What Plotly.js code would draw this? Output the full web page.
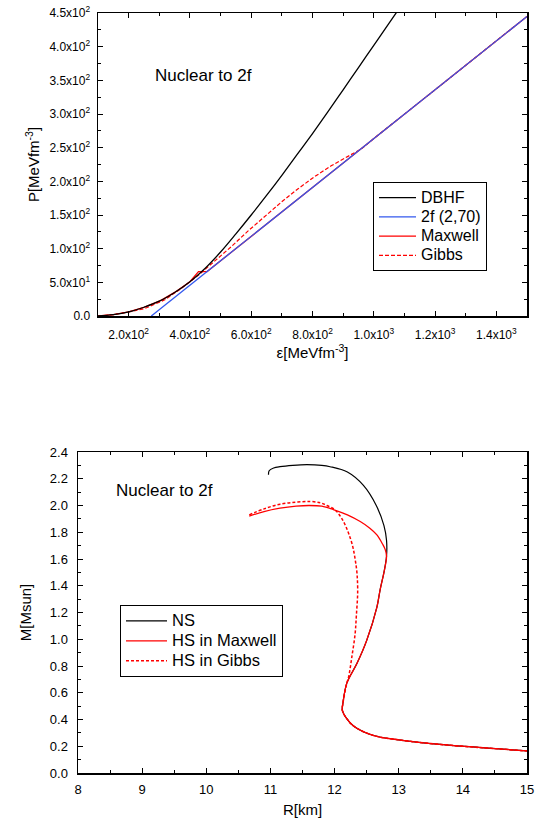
<!DOCTYPE html>
<html><head><meta charset="utf-8">
<script src="https://cdn.plot.ly/plotly-3.0.1.min.js"></script>
<style>html,body{margin:0;padding:0;background:#fff}</style>
</head><body><div id="chart" style="width:547px;height:823px"></div>
<script>
// ---- Top panel: P vs energy density ----
const dbhfE = [100,150,200,250,300,350,400,450,500,550,600,650,700,750,800,850,900,950,1000,1050,1085];
const dbhfP = [0,2,6,13,22,35,51,71,95,122,150,179,209,240,271,303,336,369,402,435,458];
const twofE = [274,400,600,800,1000,1200,1400,1500];
const twofP = [0,45.7,118.3,190.9,263.5,336,408.6,444.9];
const maxwellE = [100,150,200,250,300,350,400,428,456,600,800,1000,1200,1400,1500];
const maxwellP = [0,2,6,13,22,35,51,66,66,118.3,190.9,263.5,336,408.6,444.9];
const gibbsE = [100,150,200,252,318,372,426,481,535,589,644,698,753,807,861,916,962,1000,1200,1400,1500];
const gibbsP = [0,2,6,11,24,41,60,81,103,126,148,169,189,207,223,237,249,263.5,336,408.6,444.9];
const topXTicks = [200,400,600,800,1000,1200,1400];
const topXLabels = ["2.0x10<sup>2</sup>","4.0x10<sup>2</sup>","6.0x10<sup>2</sup>","8.0x10<sup>2</sup>","1.0x10<sup>3</sup>","1.2x10<sup>3</sup>","1.4x10<sup>3</sup>"];
const topYTicks = [0,50,100,150,200,250,300,350,400,450];
const topYLabels = ["0.0","5.0x10<sup>1</sup>","1.0x10<sup>2</sup>","1.5x10<sup>2</sup>","2.0x10<sup>2</sup>","2.5x10<sup>2</sup>","3.0x10<sup>2</sup>","3.5x10<sup>2</sup>","4.0x10<sup>2</sup>","4.5x10<sup>2</sup>"];

// ---- Bottom panel: M vs R ----
const nsR = [10.97,10.98,11.05,11.15,11.35,11.57,11.8,11.93,12.2,12.45,12.65,12.77,12.81,12.81,12.77,12.71,12.66,12.5,12.35,12.19,12.13,12.12,12.17,12.30,12.61,12.97,13.5,14.28,15.0];
const nsM = [2.23,2.26,2.28,2.29,2.30,2.305,2.30,2.29,2.25,2.15,2.0,1.85,1.74,1.62,1.5,1.37,1.24,0.99,0.82,0.67,0.52,0.47,0.42,0.35,0.28,0.25,0.22,0.19,0.165];
const maxR = [10.67,10.9,11.15,11.4,11.6,11.8,11.98,12.2,12.4,12.55,12.66,12.75,12.79,12.81,12.77,12.71,12.66,12.5,12.35,12.19,12.13,12.12,12.17,12.30,12.61,12.97,13.5,14.28,15.0];
const maxM = [1.92,1.955,1.98,1.995,2.0,1.995,1.97,1.93,1.88,1.83,1.78,1.71,1.67,1.62,1.5,1.37,1.24,0.99,0.82,0.67,0.52,0.47,0.42,0.35,0.28,0.25,0.22,0.19,0.165];
const gibR = [10.67,10.9,11.15,11.4,11.62,11.78,11.88,12.0,12.09,12.16,12.22,12.28,12.32,12.35,12.36,12.34,12.32,12.27,12.22,12.19,12.13,12.12,12.17,12.30,12.61,12.97,13.5,14.28,15.0];
const gibM = [1.93,1.975,2.01,2.025,2.03,2.02,2.0,1.97,1.92,1.86,1.79,1.70,1.60,1.49,1.35,1.18,1.04,0.87,0.72,0.67,0.52,0.47,0.42,0.35,0.28,0.25,0.22,0.19,0.165];
const botXTicks = [8,9,10,11,12,13,14,15];
const botYTicks = [0,0.2,0.4,0.6,0.8,1.0,1.2,1.4,1.6,1.8,2.0,2.2,2.4];

const BLUE = "#3358ee", RED = "#ff0000", BLK = "#000000";
const lg = (t, px) => '<span style="font-size:' + px + 'px">' + t + '</span>';
const traces = [
  {x: gibbsE, y: gibbsP, name: lg("Gibbs", 16), mode: "lines", line: {color: RED, width: 1.2, dash: "4px,2px"}, xaxis: "x", yaxis: "y", legend: "legend", legendrank: 4},
  {x: maxwellE, y: maxwellP, name: lg("Maxwell", 16), mode: "lines", line: {color: RED, width: 1.3}, xaxis: "x", yaxis: "y", legend: "legend", legendrank: 3},
  {x: dbhfE, y: dbhfP, name: lg("DBHF", 16), mode: "lines", line: {color: BLK, width: 1.3, shape: "spline"}, xaxis: "x", yaxis: "y", legend: "legend", legendrank: 1},
  {x: twofE, y: twofP, name: lg("2f (2,70)", 16), mode: "lines", line: {color: BLUE, width: 1.3}, xaxis: "x", yaxis: "y", legend: "legend", legendrank: 2},
  {x: nsR, y: nsM, name: lg("NS", 16.5), mode: "lines", line: {color: BLK, width: 1.2, shape: "spline"}, xaxis: "x2", yaxis: "y2", legend: "legend2", legendrank: 1},
  {x: maxR, y: maxM, name: lg("HS in Maxwell", 16.5), mode: "lines", line: {color: RED, width: 1.3, shape: "spline"}, xaxis: "x2", yaxis: "y2", legend: "legend2", legendrank: 2},
  {x: gibR, y: gibM, name: lg("HS in Gibbs", 16.5), mode: "lines", line: {color: RED, width: 1.5, dash: "3px,2px", shape: "spline"}, xaxis: "x2", yaxis: "y2", legend: "legend2", legendrank: 3}
];

const W = 547, H = 823;
const FONT = "Liberation Sans, Arial, sans-serif";
function ax(extra) {
  return Object.assign({
    showline: true, linecolor: BLK, linewidth: 1.5, mirror: "allticks",
    ticks: "inside", ticklen: 5, tickwidth: 1, tickcolor: BLK,
    showgrid: false, zeroline: false, tickfont: {family: FONT, size: 12, color: BLK},
    ticklabelstandoff: 4
  }, extra);
}
const layout = {
  width: W, height: H, margin: {l: 0, r: 0, t: 0, b: 0},
  paper_bgcolor: "#fff", plot_bgcolor: "#fff",
  font: {family: FONT, color: BLK},
  showlegend: true,
  xaxis: ax({domain: [98/W, 527/W], range: [100, 1500], anchor: "y",
    tickmode: "array", tickvals: topXTicks, ticktext: topXLabels, ticklabelstandoff: 7,
    minor: {ticks: "inside", ticklen: 3, tickcolor: BLK, tickmode: "linear", tick0: 100, dtick: 100},
    title: {text: "ε[MeVfm<sup>-3</sup>]", font: {family: FONT, size: 15}, standoff: 2}}),
  yaxis: ax({domain: [1 - 316/H, 1 - 13/H], range: [0, 450], anchor: "x",
    tickmode: "array", tickvals: topYTicks, ticktext: topYLabels,
    minor: {ticks: "inside", ticklen: 3, tickcolor: BLK, tickmode: "linear", tick0: 0, dtick: 25},
    title: {text: "P[MeVfm<sup>-3</sup>]", font: {family: FONT, size: 15}, standoff: 6}}),
  xaxis2: ax({domain: [78/W, 527/W], range: [8, 15], anchor: "y2",
    tickmode: "array", tickvals: botXTicks, tickfont: {family: FONT, size: 13, color: BLK},
    minor: {ticks: "inside", ticklen: 3, tickcolor: BLK, tickmode: "linear", tick0: 8, dtick: 0.5},
    title: {text: "R[km]", font: {family: FONT, size: 15}, standoff: 8}}),
  yaxis2: ax({domain: [1 - 773/H, 1 - 452/H], range: [0, 2.4], anchor: "x2",
    tickmode: "array", tickvals: botYTicks, ticktext: botYTicks.map(v => v.toFixed(1)),
    tickfont: {family: FONT, size: 13, color: BLK}, ticklabelstandoff: 6,
    minor: {ticks: "inside", ticklen: 3, tickcolor: BLK, tickmode: "linear", tick0: 0, dtick: 0.1},
    title: {text: "M[Msun]", font: {family: FONT, size: 15}, standoff: 14}}),
  legend: {x: 373/W, y: 1 - 182/H, xanchor: "left", yanchor: "top",
    bordercolor: BLK, borderwidth: 1, bgcolor: "#fff", itemwidth: 37,
    font: {family: FONT, size: 12.5, color: BLK}, traceorder: "normal", tracegroupgap: 0},
  legend2: {x: 120/W, y: 1 - 605/H, xanchor: "left", yanchor: "top",
    bordercolor: BLK, borderwidth: 1, bgcolor: "#fff", itemwidth: 41,
    font: {family: FONT, size: 13, color: BLK}, traceorder: "normal", tracegroupgap: 0},
  annotations: [
    {text: "Nuclear to 2f", xref: "paper", yref: "paper", x: 153/W, y: 1 - 76/H, xanchor: "left", yanchor: "middle", showarrow: false, font: {family: FONT, size: 17, color: BLK}},
    {text: "Nuclear to 2f", xref: "paper", yref: "paper", x: 114/W, y: 1 - 490/H, xanchor: "left", yanchor: "middle", showarrow: false, font: {family: FONT, size: 17, color: BLK}}
  ]
};
Plotly.newPlot("chart", traces, layout, {displayModeBar: false, staticPlot: true});
</script></body></html>
